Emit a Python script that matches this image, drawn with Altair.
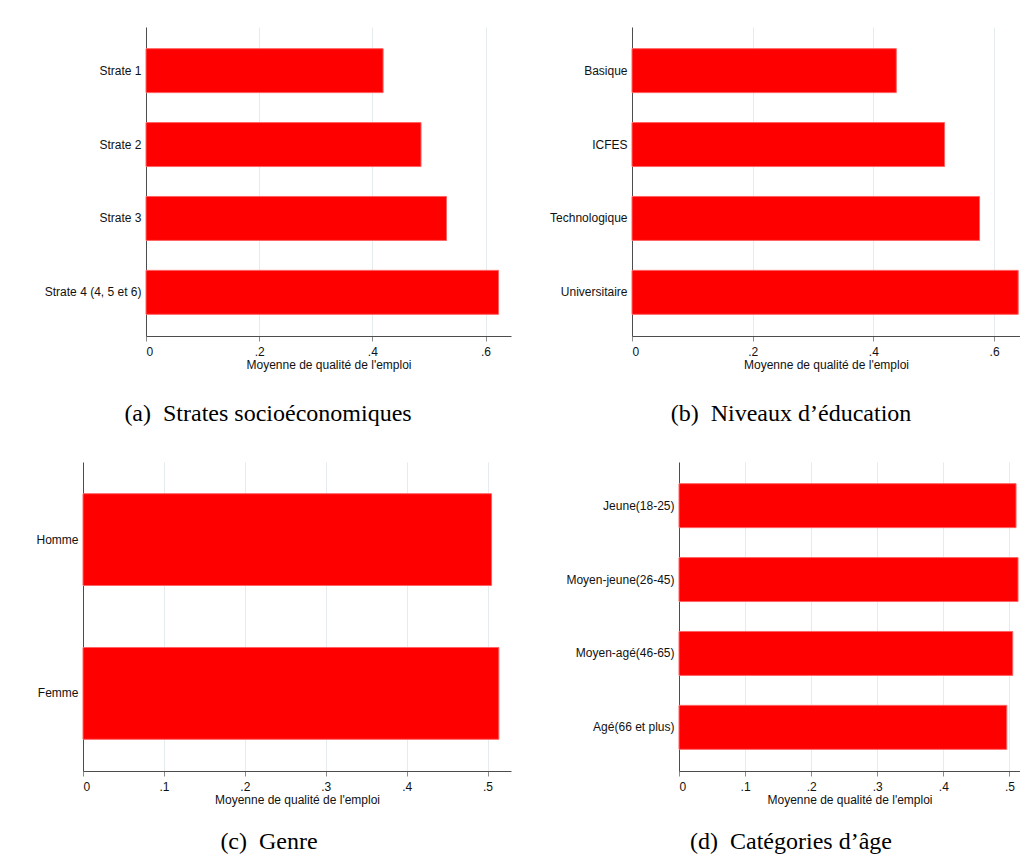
import altair as alt
import pandas as pd

# ---- data ----
strates = ["Strate 1", "Strate 2", "Strate 3", "Strate 4 (4, 5 et 6)"]
vals_strates = [0.419, 0.486, 0.531, 0.623]

education = ["Basique", "ICFES", "Technologique", "Universitaire"]
vals_education = [0.438, 0.518, 0.576, 0.640]

genre = ["Homme", "Femme"]
vals_genre = [0.505, 0.514]

ages = ["Jeune(18-25)", "Moyen-jeune(26-45)", "Moyen-agé(46-65)", "Agé(66 et plus)"]
vals_ages = [0.510, 0.513, 0.505, 0.496]

ticks_a = [0, 0.2, 0.4, 0.6]
ticks_c = [0, 0.1, 0.2, 0.3, 0.4, 0.5]

captions = [
    "(a)\u00a0\u00a0Strates socioéconomiques",
    "(b)\u00a0\u00a0Niveaux d’éducation",
    "(c)\u00a0\u00a0Genre",
    "(d)\u00a0\u00a0Catégories d’âge",
]

XTITLE = "Moyenne de qualité de l'emploi"
LABEL_EXPR = "datum.value == 0 ? '0' : replace(format(datum.value, '.1f'), '0.', '.')"


def panel(cats, vals, width, shift, height, xmax, ticks, extent, caption, dx, cap_offset, pin, pout):
    """shift: left inset of the plotting area inside the panel's cell."""
    df = pd.DataFrame({"cat": cats, "val": vals})
    yaxis_kw = dict(title=None, ticks=False, grid=False, labelPadding=5, offset=-shift)
    if extent is not None:
        yaxis_kw.update(minExtent=extent, maxExtent=extent)
    return (
        alt.Chart(
            df,
            title=alt.TitleParams(
                caption,
                orient="bottom",
                anchor="middle",
                frame="group",
                dx=dx,
                offset=cap_offset,
                font="Liberation Serif",
                fontSize=24,
                fontWeight="normal",
                color="#000000",
            ),
        )
        .mark_bar(color="#ff0000", stroke="#ff6464", strokeWidth=1)
        .encode(
            x=alt.X(
                "val:Q",
                scale=alt.Scale(domain=[0, xmax], nice=False, zero=True,
                                range=[shift, shift + width]),
                axis=alt.Axis(
                    values=ticks,
                    title=XTITLE,
                    labelExpr=LABEL_EXPR,
                    tickSize=5,
                    labelPadding=5,
                    titlePadding=2,
                    grid=True,
                ),
            ),
            y=alt.Y(
                "cat:N",
                sort=cats,
                scale=alt.Scale(paddingInner=pin, paddingOuter=pout),
                axis=alt.Axis(**yaxis_kw),
            ),
        )
        .properties(width=shift + width, height=height)
    )


pa = panel(strates, vals_strates, 365, 63, 309, 0.645, ticks_a, None, captions[0], -29, 32, 0.405, 0.293)
pb = panel(education, vals_education, 388, 0, 309, 0.643, ticks_a, 101, captions[1], -35, 32, 0.405, 0.293)
pc = panel(genre, vals_genre, 428, 0, 309, 0.529, ticks_c, 75, captions[2], -28, 25, 0.403, 0.206)
pd_ = panel(ages, vals_ages, 341, 47, 309, 0.516, ticks_c, None, captions[3], -35, 25, 0.405, 0.293)

chart = (
    alt.concat(pa, pb, pc, pd_, columns=2, spacing={"row": 36, "column": 20})
    .properties(padding={"left": 0, "top": 19, "right": 0, "bottom": 0}, background="white")
    .configure_view(stroke=None)
    .configure_axis(
        domainColor="#4d4d4d",
        domainWidth=1,
        tickColor="#8c8c8c",
        tickWidth=1,
        labelFont="Liberation Sans",
        labelFontSize=12,
        labelColor="#111111",
        titleFont="Liberation Sans",
        titleFontSize=12,
        titleFontWeight="normal",
        titleColor="#111111",
        gridColor="#e4ecef",
        gridWidth=1,
    )
)

chart.save("out.html", embed_options={"renderer": "svg", "actions": False})
